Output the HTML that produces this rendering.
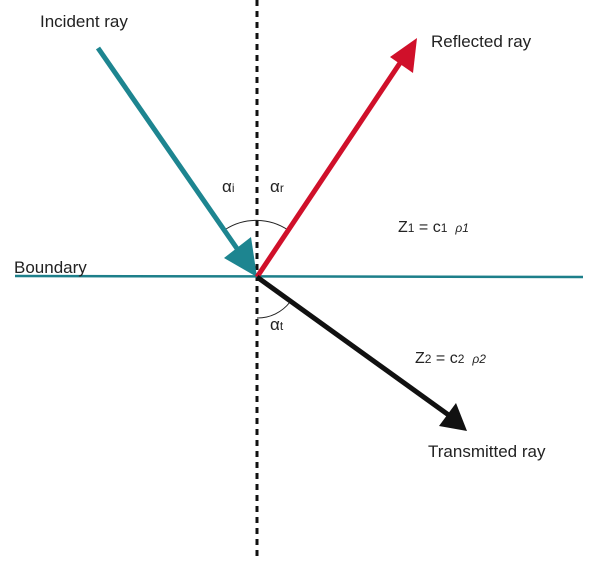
<!DOCTYPE html>
<html><head><style>
body{margin:0;background:#fff;width:600px;height:572px;overflow:hidden}
text{font-family:"Liberation Sans",sans-serif;fill:#222}
</style></head><body>
<svg width="600" height="572" viewBox="0 0 600 572">
<line x1="257" y1="0" x2="257" y2="560" stroke="#111" stroke-width="3" stroke-dasharray="6,5"/>
<line x1="15" y1="276" x2="583" y2="277" stroke="#1d7f8a" stroke-width="2.5"/>
<path d="M226,229 A57,57 0 0 1 288,230" fill="none" stroke="#222" stroke-width="1"/>
<path d="M257,318 A41,41 0 0 0 290,302" fill="none" stroke="#222" stroke-width="1"/>
<line x1="98" y1="48" x2="238" y2="250" stroke="#1d8590" stroke-width="5"/>
<polygon points="257,277 224,258 251,237" fill="#1d8590"/>
<line x1="257" y1="277" x2="400" y2="63" stroke="#d0102a" stroke-width="5"/>
<polygon points="417,38 390,57 413,73" fill="#d0102a"/>
<line x1="257" y1="277" x2="450" y2="416" stroke="#111" stroke-width="5"/>
<polygon points="467,431 439,426 456,403" fill="#111"/>
<text x="40" y="27" font-size="17">Incident ray</text>
<text x="431" y="47" font-size="17">Reflected ray</text>
<text x="14" y="273" font-size="17">Boundary</text>
<text x="428" y="457" font-size="17">Transmitted ray</text>
<text x="222" y="192" font-size="17" font-family="Liberation Serif">α<tspan font-size="12">i</tspan></text>
<text x="270" y="192" font-size="17" font-family="Liberation Serif">α<tspan font-size="12">r</tspan></text>
<text x="270" y="330" font-size="17" font-family="Liberation Serif">α<tspan font-size="12">t</tspan></text>
<text x="398" y="232" font-size="16">Z<tspan font-size="12">1</tspan> = c<tspan font-size="12">1</tspan><tspan font-size="12" dx="8" font-style="italic">ρ1</tspan></text>
<text x="415" y="363" font-size="16">Z<tspan font-size="12">2</tspan> = c<tspan font-size="12">2</tspan><tspan font-size="12" dx="8" font-style="italic">ρ2</tspan></text>
</svg>
</body></html>
